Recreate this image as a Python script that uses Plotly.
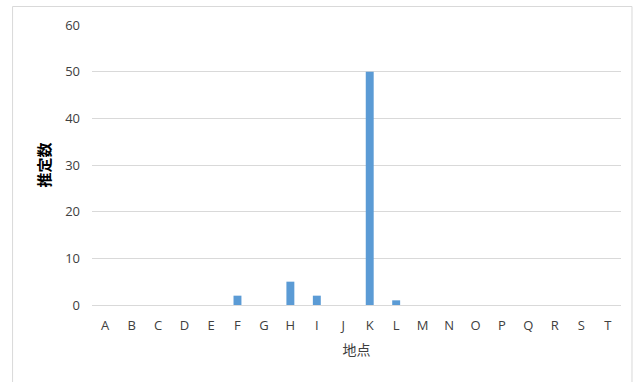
import plotly.graph_objects as go

categories = list("ABCDEFGHIJKLMNOPQRST")
values = [0, 0, 0, 0, 0, 2, 0, 5, 2, 0, 50, 1, 0, 0, 0, 0, 0, 0, 0, 0]
y_ticks = [0, 10, 20, 30, 40, 50, 60]
x_title = "地点"
y_title = "推定数"

W, H = 643, 382
L, R, T, B = 92, 21.5, 25, 77
pw, ph = W - L - R, H - T - B

fig = go.Figure(go.Bar(x=categories, y=values, marker_color="#5B9BD5",
                       marker_line_width=0))

def px_to_paper_x(px):
    return (px - L) / pw

def px_to_paper_y(py):
    return (H - B - py) / ph

fig.add_shape(type="rect", xref="paper", yref="paper",
              x0=px_to_paper_x(12.5), x1=px_to_paper_x(632.5),
              y0=px_to_paper_y(400), y1=px_to_paper_y(6.5),
              line=dict(color="#D9D9D9", width=1), fillcolor="rgba(0,0,0,0)",
              layer="below")

fig.update_layout(
    width=W, height=H,
    margin=dict(l=L, r=R, t=T, b=B, pad=0),
    paper_bgcolor="white", plot_bgcolor="white",
    bargap=0.7,
    showlegend=False,
    font=dict(family="Open Sans, Noto Sans CJK JP", size=13, color="#404040"),
    xaxis=dict(
        type="category", categoryorder="array", categoryarray=categories,
        showgrid=False, showline=False, ticks="", zeroline=False,
        ticklabelstandoff=11,
        title=dict(text=x_title, font=dict(family="Noto Sans CJK JP", size=14, color="#404040"), standoff=12),
    ),
    yaxis=dict(
        range=[0, 60], tickvals=y_ticks, showgrid=True, gridcolor="#D9D9D9",
        gridwidth=1, zeroline=True, zerolinecolor="#D9D9D9", zerolinewidth=1,
        showline=False, ticks="", ticklabelstandoff=11,
        title=dict(text="<b>" + y_title + "</b>", font=dict(family="Noto Sans CJK JP", size=15, color="#000000"), standoff=10),
    ),
)

fig.write_html("out.html")
